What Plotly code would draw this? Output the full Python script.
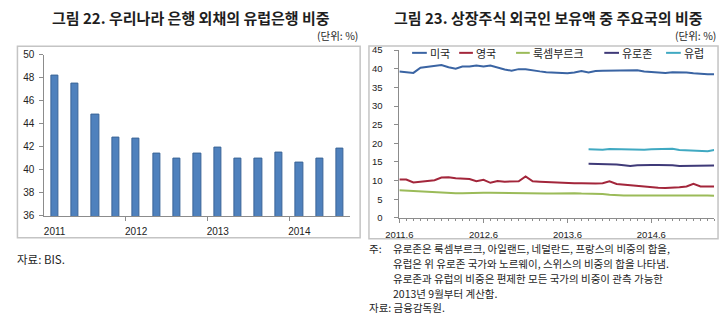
import pandas as pd
import plotly.graph_objects as go

# ---- Figure 22: share of European banks in Korean banks' foreign debt (quarterly) ----
bank_years = ["2011", "2012", "2013", "2014"]
bank_share = [48.2, 47.5, 44.8, 42.8, 42.7, 41.4, 41.0, 41.4,
              41.9, 41.0, 41.0, 41.5, 40.6, 41.0, 41.8]

# ---- Figure 23: share of foreign holdings of listed stocks by country (monthly) ----
month_start = "2011-06-01"
month_count = 46
month_ticks = ["2011.6", "2012.6", "2013.6", "2014.6"]

us = [39.3, 39.1, 38.9, 40.3, 40.5, 40.9, 41.0, 40.4, 40.0, 40.6,
      40.6, 40.9, 40.6, 40.9, 40.3, 39.8, 39.5, 39.9, 39.9, 39.7,
      39.3, 39.1, 39.0, 39.0, 38.8, 39.0, 39.4, 39.0, 39.4, 39.5,
      39.5, 39.5, 39.6, 39.7, 39.6, 39.3, 39.1, 39.0, 38.9, 39.1,
      39.1, 39.0, 38.8, 38.6, 38.5, 38.5]
uk = [10.3, 10.3, 9.5, 9.7, 9.9, 10.1, 10.8, 10.9, 10.6, 10.5,
      10.4, 9.8, 10.2, 9.4, 9.9, 9.7, 9.7, 9.8, 11.1, 9.8,
      9.7, 9.6, 9.5, 9.4, 9.3, 9.3, 9.3, 9.2, 9.2, 9.3,
      9.8, 9.1, 8.9, 8.7, 8.5, 8.3, 8.2, 8.1, 8.0, 8.0,
      8.2, 8.4, 9.1, 8.4, 8.3, 8.4]
lux = [7.4, 7.3, 7.2, 7.0, 6.9, 6.85, 6.8, 6.75, 6.6, 6.6,
       6.7, 6.8, 6.7, 6.75, 6.7, 6.6, 6.6, 6.55, 6.55, 6.55,
       6.55, 6.5, 6.55, 6.6, 6.65, 6.6, 6.5, 6.5, 6.5, 6.4,
       6.2, 6.0, 6.0, 6.0, 6.0, 6.05, 6.1, 6.15, 6.2, 6.2,
       6.15, 6.1, 6.1, 6.0, 6.0, 5.95]
# Eurozone / Europe are available from 2013.9 onward
eurozone_from = 27
eurozone = [14.5, 14.5, 14.4, 14.4, 14.3, 14.1, 13.9, 14.1, 14.2, 14.2,
            14.2, 14.2, 14.1, 13.9, 13.9, 13.9, 13.9, 13.9, 14.05]
europe = [18.4, 18.35, 18.3, 18.45, 18.4, 18.25, 18.2, 18.3, 18.3, 18.4,
          18.45, 18.55, 18.55, 18.2, 18.1, 17.9, 17.8, 17.9, 18.2]

series_names = ["미국", "영국", "룩셈부르크", "유로존", "유럽"]
series_colors = ["#3A64A3", "#A3263B", "#9BBB59", "#3F3A78", "#40A9C2"]

note_head = "주:"
note_lines = [
    "유로존은 룩셈부르크, 아일랜드, 네덜란드, 프랑스의 비중의 합을,",
    "유럽은 위 유로존 국가와 노르웨이, 스위스의 비중의 합을 나타냄.",
    "유로존과 유럽의 비중은 편제한 모든 국가의 비중이 관측 가능한",
    "2013년 9월부터 계산함.",
]
source_line = "자료: 금융감독원."

W, H = 720, 323


def px(x):
    return x / W


def py(y):
    return 1 - y / H


months = pd.date_range(month_start, periods=month_count, freq="MS")
pad = [None] * eurozone_from
series_values = [us, uk, lux, pad + eurozone, pad + europe]

fig = go.Figure()

fig.add_trace(go.Bar(
    x=list(range(len(bank_share))), y=bank_share,
    marker=dict(color="#4F81BD", line=dict(color="#3A6497", width=1)),
    width=0.36, xaxis="x", yaxis="y", showlegend=False,
))

for name, vals, col in zip(series_names, series_values, series_colors):
    fig.add_trace(go.Scatter(
        x=months, y=vals, mode="lines", name=name,
        line=dict(color=col, width=2), connectgaps=False,
        xaxis="x2", yaxis="y2", showlegend=False,
    ))

tick_font = dict(family="Liberation Sans, Arial, sans-serif", size=10, color="#222222")
tick_font2 = dict(family="Liberation Sans, Arial, sans-serif", size=9.5, color="#222222")
axis_line = "#8C8C8C"

fig.update_layout(
    width=W, height=H,
    margin=dict(l=0, r=0, t=0, b=0),
    paper_bgcolor="white", plot_bgcolor="white",
    bargap=0,
    xaxis=dict(
        domain=[px(31), px(343)], range=[-0.5, len(bank_share) - 0.5],
        tickmode="array", tickvals=[0, 4, 8, 12], ticktext=bank_years,
        ticks="", showline=True, linecolor=axis_line, linewidth=1,
        showgrid=False, zeroline=False, tickfont=tick_font,
        ticklabelstandoff=6,
        minor=dict(tickmode="array", tickvals=[3.5, 7.5, 11.5],
                   ticks="outside", ticklen=4, tickcolor=axis_line),
    ),
    yaxis=dict(
        domain=[py(217.3), py(50.3)], range=[36, 50], dtick=2,
        ticks="outside", ticklen=4, tickcolor=axis_line,
        showline=True, linecolor=axis_line, linewidth=1,
        showgrid=False, zeroline=False, tickfont=tick_font,
        ticklabelstandoff=3,
    ),
    xaxis2=dict(
        domain=[px(393), px(714)], type="date",
        range=[months[0], months[-1]],
        tickmode="array", tickvals=[months[i] for i in (0, 12, 24, 36)],
        ticktext=month_ticks,
        ticks="outside", ticklen=4, tickcolor=axis_line,
        showline=True, linecolor=axis_line, linewidth=1,
        showgrid=False, zeroline=False, tickfont=tick_font2,
        ticklabelstandoff=4,
        minor=dict(dtick="M1", tick0=month_start, ticks="outside",
                   ticklen=2, tickcolor=axis_line),
        anchor="y2",
    ),
    yaxis2=dict(
        domain=[py(219.3), py(45.7)], range=[0, 45], dtick=5,
        ticks="outside", ticklen=4, tickcolor=axis_line,
        showline=True, linecolor=axis_line, linewidth=1,
        showgrid=False, zeroline=False, tickfont=tick_font2,
        ticklabelstandoff=10, anchor="x2",
    ),
)

# panel frames
frame = dict(type="rect", xref="paper", yref="paper",
             line=dict(color="#C4C4C4", width=1.5), fillcolor="rgba(0,0,0,0)")
fig.add_shape(x0=px(3.5), x1=px(353), y0=py(240), y1=py(41.7), **frame)
fig.add_shape(x0=px(362), x1=px(718), y0=py(241), y1=py(41.5), **frame)

kr = "Noto Sans CJK KR"
ink = "#1E1E1E"


def note(text, x, y, size, anchor="left", bold=False, yanchor="middle"):
    fig.add_annotation(
        text=text, x=px(x), y=py(y), xref="paper", yref="paper",
        xanchor=anchor, yanchor=yanchor, showarrow=False, align="left",
        borderpad=0,
        font=dict(family=kr, size=size, color=ink, weight=700 if bold else 400),
    )


note("그림 22. 우리나라 은행 외채의 유럽은행 비중", 180, 12, 15, "center", True)
note("(단위: %)", 352, 30.5, 10.5, "right")
note("자료: BIS.", 2, 262, 11.5)

note("그림 23. 상장주식 외국인 보유액 중 주요국의 비중", 545, 12, 15, "center", True)
note("(단위: %)", 717, 30.5, 10.5, "right")

# inline legend for figure 23
legend_lines = [(406, 421), (454, 468), (512, 526), (602, 617), (665, 680)]
legend_text_x = [423, 470, 528, 619, 682]
for (x0, x1), tx, name, col in zip(legend_lines, legend_text_x, series_names, series_colors):
    fig.add_shape(type="line", xref="paper", yref="paper",
                  x0=px(x0), x1=px(x1), y0=py(48.5), y1=py(48.5),
                  line=dict(color=col, width=2))
    note(name, tx, 48.5, 11)

# footnotes, one line per annotation
foot_size = 10.5
foot_step = 15.4
foot_top = 251
note(note_head, 361, foot_top, foot_size)
for i, line in enumerate(note_lines):
    note(line, 386, foot_top + i * foot_step, foot_size)
note(source_line, 361, foot_top + len(note_lines) * foot_step, foot_size)

fig.write_html("out.html")
